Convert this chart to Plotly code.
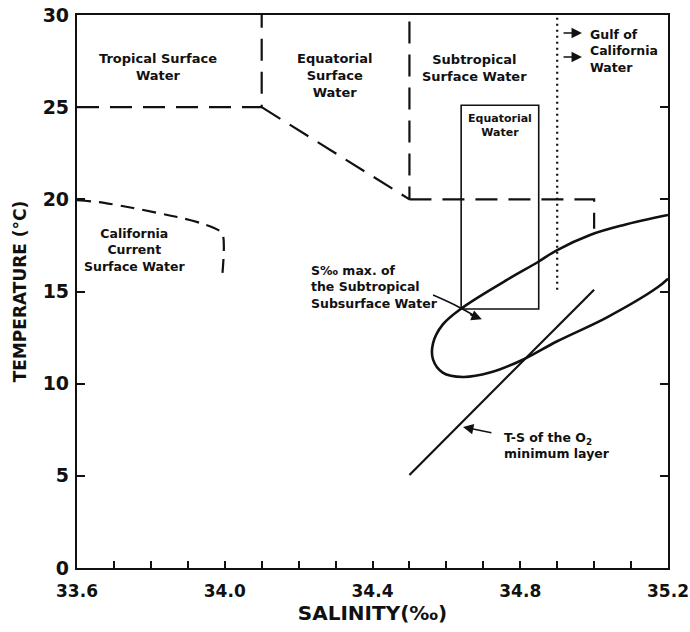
import plotly.graph_objects as go

# ---- data (salinity in permil, temperature in deg C) ----
tropical_bound_s = [33.6, 34.1, 34.1]
tropical_bound_t = [25.0, 25.0, 30.0]

equatorial_bound_s = [34.1, 34.5, 34.5]
equatorial_bound_t = [25.0, 20.0, 30.0]

subtropical_bound_s = [34.5, 35.0, 35.0]
subtropical_bound_t = [20.0, 20.0, 18.4]

gulf_bound_s = [34.9, 34.9]
gulf_bound_t = [15.1, 30.0]

eq_box_s = [34.64, 34.85, 34.85, 34.64, 34.64]
eq_box_t = [14.05, 14.05, 25.1, 25.1, 14.05]

california_s = [33.6, 33.66, 33.752, 33.871, 33.933, 33.993, 33.993]
california_t = [19.95, 19.85, 19.53, 19.04, 18.72, 18.17, 15.8]

smax_s = [35.2, 35.078, 34.989, 34.9, 34.848, 34.764, 34.642, 34.59, 34.564,
          34.564, 34.59, 34.645, 34.718, 34.807, 34.9, 35.035, 35.17, 35.2]
smax_t = [19.15, 18.6, 18.07, 17.25, 16.6, 15.63, 14.1, 13.2, 12.2,
          11.3, 10.6, 10.36, 10.6, 11.3, 12.3, 13.6, 15.2, 15.7]

o2min_s = [34.5, 35.0]
o2min_t = [5.05, 15.1]

smax_pointer_s = [34.564, 34.623, 34.675]
smax_pointer_t = [14.81, 14.27, 13.7]

x_ticks = [33.6, 34.0, 34.4, 34.8, 35.2]
x_ticklabels = ["33.6", "34.0", "34.4", "34.8", "35.2"]
y_ticks = [0, 5, 10, 15, 20, 25, 30]

FONT = "DejaVu Sans"
BLACK = "#111111"

fig = go.Figure()

dash_long = "22px,11px"
for s, t in [(tropical_bound_s, tropical_bound_t),
             (equatorial_bound_s, equatorial_bound_t),
             (subtropical_bound_s, subtropical_bound_t)]:
    fig.add_trace(go.Scatter(x=s, y=t, mode="lines",
                             line=dict(color=BLACK, width=2.2, dash=dash_long),
                             hoverinfo="skip", showlegend=False))

fig.add_trace(go.Scatter(x=gulf_bound_s, y=gulf_bound_t, mode="lines",
                         line=dict(color=BLACK, width=2.2, dash="2px,4px"),
                         hoverinfo="skip", showlegend=False))

fig.add_trace(go.Scatter(x=eq_box_s, y=eq_box_t, mode="lines",
                         line=dict(color=BLACK, width=1.6),
                         hoverinfo="skip", showlegend=False))

fig.add_trace(go.Scatter(x=california_s, y=california_t, mode="lines",
                         line=dict(color=BLACK, width=2.2, dash="14px,8px",
                                   shape="spline", smoothing=0.6),
                         hoverinfo="skip", showlegend=False))

fig.add_trace(go.Scatter(x=smax_s, y=smax_t, mode="lines",
                         line=dict(color=BLACK, width=2.6, shape="spline", smoothing=1.0),
                         hoverinfo="skip", showlegend=False))

fig.add_trace(go.Scatter(x=o2min_s, y=o2min_t, mode="lines",
                         line=dict(color=BLACK, width=2.2),
                         hoverinfo="skip", showlegend=False))

fig.add_trace(go.Scatter(x=smax_pointer_s, y=smax_pointer_t, mode="lines",
                         line=dict(color=BLACK, width=1.6, shape="spline"),
                         hoverinfo="skip", showlegend=False))

def label(text, s, t, size=12.5, align="center", xanchor="center"):
    fig.add_annotation(x=s, y=t, xref="x", yref="y", text=text, showarrow=False,
                       align=align, xanchor=xanchor, yanchor="middle",
                       font=dict(family=FONT, size=size, color=BLACK, weight="bold"))

label("Tropical Surface<br>Water", 33.819, 27.2, size=13)
label("Equatorial<br>Surface<br>Water", 34.296, 26.7, size=13)
label("Subtropical<br>Surface Water", 34.677, 27.1, size=13)
label("Gulf of<br>California<br>Water", 34.983, 28.05, align="left", xanchor="left")
label("Equatorial<br>Water", 34.745, 23.98, size=11)
label("California<br>Current<br>Surface Water", 33.755, 17.25)
label("S‰ max. of<br>the Subtropical<br>Subsurface Water", 34.228, 15.24,
      align="left", xanchor="left")
label("T-S of the O<sub>2</sub><br>minimum layer", 34.75, 6.65,
      align="left", xanchor="left")

def arrow(s_head, t_head, s_tail, t_tail):
    fig.add_annotation(x=s_head, y=t_head, ax=s_tail, ay=t_tail,
                       xref="x", yref="y", axref="x", ayref="y",
                       text="", showarrow=True, arrowhead=2, arrowsize=1.3,
                       arrowwidth=1.6, arrowcolor=BLACK)

arrow(34.967, 29.02, 34.913, 29.02)
arrow(34.967, 27.72, 34.913, 27.72)
arrow(34.696, 13.5, 34.66, 13.78)
arrow(34.645, 7.65, 34.726, 7.32)

tick_common = dict(ticks="inside", ticklen=7, tickwidth=1.5, tickcolor=BLACK)
minor_common = dict(dtick=0.1, tick0=33.6, ticks="inside", ticklen=7,
                    tickwidth=1.5, tickcolor=BLACK, showgrid=False)

fig.update_layout(
    width=690, height=632,
    margin=dict(l=77, r=22, t=15, b=64),
    paper_bgcolor="white", plot_bgcolor="white",
    font=dict(family=FONT, color=BLACK),
    showlegend=False,
    xaxis=dict(
        range=[33.6, 35.2], tickvals=x_ticks, ticktext=x_ticklabels,
        automargin=False, **tick_common, minor=minor_common,
        showline=True, linecolor=BLACK, linewidth=2.2, mirror=True,
        showgrid=False, zeroline=False,
        tickfont=dict(family=FONT, size=17, color=BLACK, weight="bold"),
        ticklabelstandoff=6,
        title=dict(text="SALINITY(‰)", standoff=6,
                   font=dict(family=FONT, size=20, color=BLACK, weight="bold")),
    ),
    xaxis2=dict(
        range=[33.6, 35.2], tickvals=x_ticks, overlaying="x", side="top",
        anchor="y", automargin=False, **tick_common, minor=minor_common,
        showticklabels=False, showline=False, showgrid=False, zeroline=False,
    ),
    yaxis=dict(
        range=[0, 30], tickvals=y_ticks,
        automargin=False,
        ticks="inside", ticklen=8, tickwidth=1.5, tickcolor=BLACK,
        showline=True, linecolor=BLACK, linewidth=2.2, mirror="ticks",
        showgrid=False, zeroline=False,
        tickfont=dict(family=FONT, size=19, color=BLACK, weight="bold"),
        ticklabelstandoff=2,
        title=dict(text="TEMPERATURE (°C)", standoff=12,
                   font=dict(family=FONT, size=17, color=BLACK, weight="bold")),
    ),
)

fig.write_html("out.html")
